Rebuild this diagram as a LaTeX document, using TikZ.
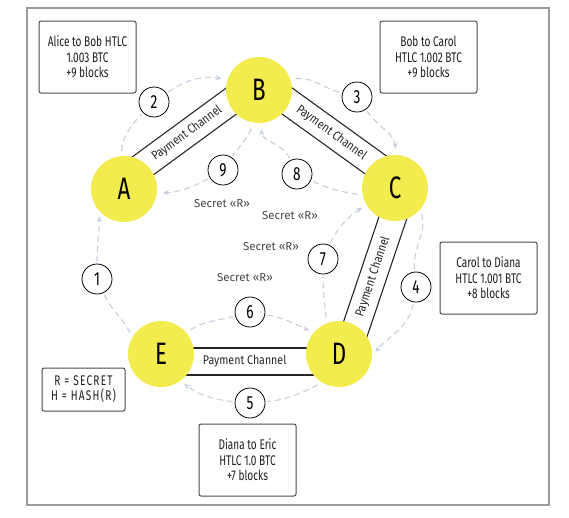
\documentclass[tikz,border=0pt]{standalone}
\usepackage{fontspec}
\setmainfont{Fira Sans}[FakeStretch=0.72]
\newfontfamily\plainf{Fira Sans}
\newfontfamily\midf{Fira Sans}[FakeStretch=0.85]
\usetikzlibrary{calc,arrows.meta,backgrounds}
\definecolor{yel}{RGB}{243,236,78}
\definecolor{dsh}{RGB}{198,207,222}
\definecolor{frm}{RGB}{155,155,155}
\definecolor{txt}{RGB}{30,30,30}
\definecolor{boxc}{RGB}{75,75,75}
\definecolor{sec}{RGB}{70,70,70}
\begin{document}
\begin{tikzpicture}[x=1pt,y=1pt,
 hub/.style={circle,fill=yel,minimum size=66pt,inner sep=0pt,font=\fontsize{31}{31}\selectfont,text=black},
 num/.style={circle,draw=black,line width=0.8pt,fill=white,minimum size=30pt,inner sep=0pt,font=\fontsize{19}{19}\selectfont,text=black},
 info/.style={draw=boxc,line width=1pt,rounded corners=2pt,minimum width=97pt,minimum height=72pt,align=center,font=\fontsize{14}{15.5}\selectfont,text=txt,inner sep=0pt},
 secret/.style={font=\plainf\fontsize{11.5}{11.5}\selectfont,text=sec,inner sep=0pt},
 bandline/.style={line width=1.1pt,draw=black!85},
 plabel/.style={font=\midf\fontsize{12.5}{12.5}\selectfont,text=black!85,inner sep=0pt},
 flowa/.style={draw=dsh,line width=1.1pt,dash pattern=on 6pt off 4pt},
 flow/.style={flowa,-{Stealth[length=6pt,width=5pt]}},
]
\useasboundingbox (0,0) rectangle (569,-517);
\draw[frm,line width=1.5pt] (27,-8) rectangle (549,-505);

% hubs
\node[hub] (A) at (124,-189) {A};
\node[hub] (B) at (259,-90) {B};
\node[hub] (C) at (395,-188) {C};
\node[hub] (D) at (339,-354) {D};
\node[hub] (E) at (161,-354) {E};

% step numbers
\node[num] (n1) at (97,-279) {1};
\node[num] (n2) at (154,-102) {2};
\node[num] (n3) at (357,-97) {3};
\node[num] (n4) at (416,-287) {4};
\node[num] (n5) at (250,-403) {5};
\node[num] (n6) at (250,-312) {6};
\node[num] (n7) at (323,-259) {7};
\node[num] (n8) at (297,-174) {8};
\node[num] (n9) at (223,-170) {9};

\begin{scope}[on background layer]
% payment channel bands
\foreach \p/\q/\ps in {A/B/0.5,B/C/0.5,C/D/0.52,D/E/0.53}{
  \draw[bandline] ($(\p)!-6pt!90:(\q)$) -- ($(\q)!-6pt!-90:(\p)$);
  \draw[bandline] ($(\p)!21pt!90:(\q)$) -- ($(\q)!21pt!-90:(\p)$);
  \path ($(\p)!7.5pt!90:(\q)$) -- ($(\q)!7.5pt!-90:(\p)$) node[plabel,pos=\ps,sloped] {Payment Channel};
}
% outer flow (HTLC offers)
\draw[flowa,shorten <=5pt,shorten >=2pt] (E.150) to[out=115,in=-65] (n1);
\draw[flow,shorten <=2pt,shorten >=5pt] (n1) to[out=90,in=-90] (A.-138);
\draw[flowa,shorten <=5pt,shorten >=2pt] (A.95) to[out=85,in=-135] (n2);
\draw[flow,shorten <=2pt,shorten >=6pt] (n2) to[out=35,in=170] (B.162);
\draw[flowa,shorten <=5pt,shorten >=2pt] (B.18) to[out=10,in=165] (n3);
\draw[flow,shorten <=2pt,shorten >=6pt] (n3) to[out=-55,in=95] (C.88);
\draw[flowa,shorten <=5pt,shorten >=2pt] (C.-40) to[out=-75,in=95] (n4);
\draw[flow,shorten <=2pt,shorten >=5pt] (n4) to[out=-100,in=50] (D.-3);
\draw[flowa,shorten <=5pt,shorten >=2pt] (D.-120) to[out=-155,in=5] (n5);
\draw[flow,shorten <=2pt,shorten >=5pt] (n5) to[out=175,in=-35] (E.-55);
% inner flow (secret)
\draw[flowa,shorten <=5pt,shorten >=2pt] (E.40) to[out=35,in=195] (n6);
\draw[flow,shorten <=2pt,shorten >=5pt] (n6) to[out=-10,in=155] (D.140);
\draw[flowa,shorten <=5pt,shorten >=2pt] (D.112) to[out=95,in=-90] (n7);
\draw[flow,shorten <=2pt,shorten >=5pt] (n7) to[out=65,in=-145] (C.-150);
\draw[flowa,shorten <=5pt,shorten >=2pt] (C.-168) to[out=172,in=-25] (n8);
\draw[flow,shorten <=2pt,shorten >=6pt] (n8) to[out=115,in=-85] (B.-87);
\draw[flowa,shorten <=6pt,shorten >=2pt] (B.-100) to[out=-110,in=55] (n9);
\draw[flow,shorten <=2pt,shorten >=6pt] (n9) to[out=-150,in=5] (A.-8);
\end{scope}

% secret labels
\node[secret] (s9) at (222,-204) {Secret «R»};
\node[secret] (s8) at (290,-216) {Secret «R»};
\node[secret] (s7) at (271,-247) {Secret «R»};
\node[secret] (s6) at (245,-278) {Secret «R»};

% info boxes
\node[info] (tAB) at (87.5,-57) {Alice to Bob HTLC\\1.003 BTC\\+9 blocks};
\node[info] (tBC) at (428.5,-57) {Bob to Carol\\HTLC 1.002 BTC\\+9 blocks};
\node[info] (tCD) at (488.5,-278) {Carol to Diana\\HTLC 1.001 BTC\\+8 blocks};
\node[info] (tDE) at (247.5,-460) {Diana to Eric\\HTLC 1.0 BTC\\+7 blocks};
\node[info,minimum width=83pt,minimum height=43pt,font=\fontsize{14}{15}\selectfont\addfontfeature{LetterSpace=9}] (key) at (83.5,-389.5) {R = SECRET\\H = HASH(R)};
\end{tikzpicture}
\end{document}
